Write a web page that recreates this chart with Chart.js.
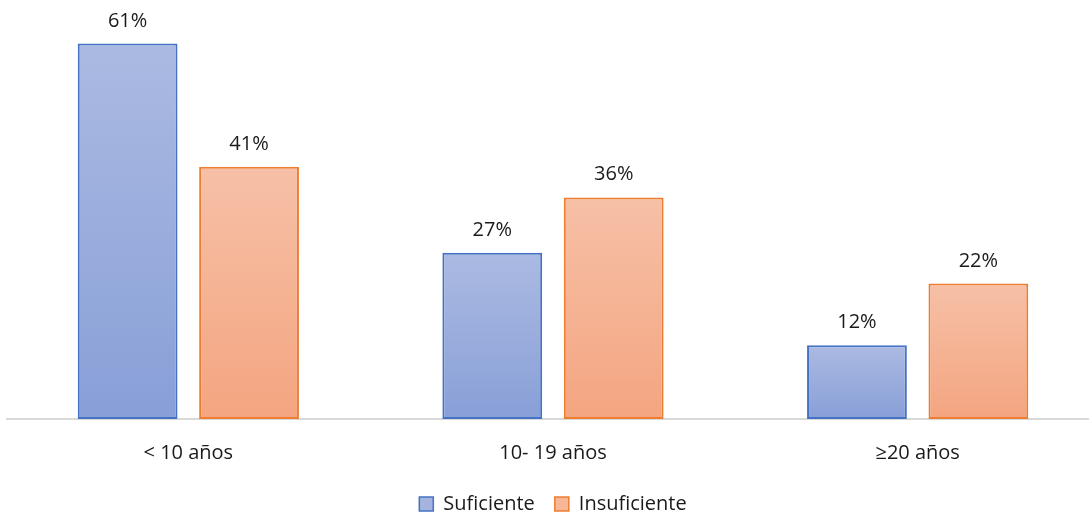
<!DOCTYPE html>
<html>
<head>
<meta charset="utf-8">
<script src="https://cdn.jsdelivr.net/npm/chart.js@4/dist/chart.umd.min.js"></script>
<style>
  html, body { margin: 0; padding: 0; background: #ffffff; overflow: hidden; }
  #wrap { position: absolute; left: 6px; top: 0; width: 1094px; height: 519px; }
</style>
</head>
<body>
<div id="wrap"><canvas id="chart"></canvas></div>
<script>
// Years of experience groups
const categories = ['< 10 años', '10- 19 años', '\u226520 años'];
const seriesNames = ['Suficiente', 'Insuficiente'];
// Percentages per group
const suficiente = [61, 27, 12];
const insuficiente = [41, 36, 22];

const FONT = '"Open Sans", "Liberation Sans", sans-serif';
const TEXT = '#1a1a1a';

// Vertical gradient for each bar, from its top down to the baseline
function barGradient(top, bottom) {
  return (ctx) => {
    const chart = ctx.chart;
    const y = chart.scales.y;
    if (!chart.chartArea || !y || ctx.type !== 'data') return bottom;
    const yTop = y.getPixelForValue(ctx.raw);
    const yBase = y.getPixelForValue(0);
    const g = chart.ctx.createLinearGradient(0, yTop, 0, yBase);
    g.addColorStop(0, top);
    g.addColorStop(1, bottom);
    return g;
  };
}

// Percent labels above each bar
const valueLabels = {
  id: 'valueLabels',
  afterDatasetsDraw(chart) {
    const c = chart.ctx;
    c.save();
    c.font = '20px ' + FONT;
    c.fillStyle = TEXT;
    c.textAlign = 'center';
    c.textBaseline = 'alphabetic';
    chart.data.datasets.forEach((ds, i) => {
      chart.getDatasetMeta(i).data.forEach((bar, j) => {
        c.fillText(ds.data[j] + '%', bar.x, bar.y - 17);
      });
    });
    c.restore();
  }
};

new Chart(document.getElementById('chart'), {
  type: 'bar',
  data: {
    labels: categories,
    datasets: [
      {
        label: seriesNames[0],
        data: suficiente,
        backgroundColor: barGradient('#abbae2', '#889fd7'),
        borderColor: '#4472c4',
        borderWidth: 2,
        borderSkipped: false
      },
      {
        label: seriesNames[1],
        data: insuficiente,
        backgroundColor: barGradient('#f6c0a7', '#f4a580'),
        borderColor: '#ed7d31',
        borderWidth: 2,
        borderSkipped: false
      }
    ]
  },
  options: {
    responsive: true,
    maintainAspectRatio: false,
    animation: false,
    events: [],
    layout: { padding: { top: 19, bottom: -5 } },
    datasets: {
      bar: { categoryPercentage: 0.666, barPercentage: 0.822 }
    },
    scales: {
      x: {
        grid: { display: false, drawTicks: false },
        border: { display: true, color: '#d9d9d9', width: 2 },
        ticks: { color: TEXT, font: { family: FONT, size: 20 }, padding: 22 },
        // keep the category labels close to the legend row
        afterFit(axis) { axis.height -= 13; }
      },
      y: {
        display: false,
        min: 0,
        max: 65
      }
    },
    plugins: {
      legend: {
        position: 'bottom',
        labels: {
          color: TEXT,
          font: { family: FONT, size: 20 },
          boxWidth: 14,
          boxHeight: 14,
          padding: 20,
          generateLabels(chart) {
            const items = Chart.defaults.plugins.legend.labels.generateLabels(chart);
            const fills = ['#a5b4df', '#f5b797'];
            items.forEach((it, i) => { it.fillStyle = fills[i]; it.lineWidth = 1.5; });
            return items;
          }
        }
      },
      tooltip: { enabled: false }
    }
  },
  plugins: [valueLabels]
});
</script>
</body>
</html>
